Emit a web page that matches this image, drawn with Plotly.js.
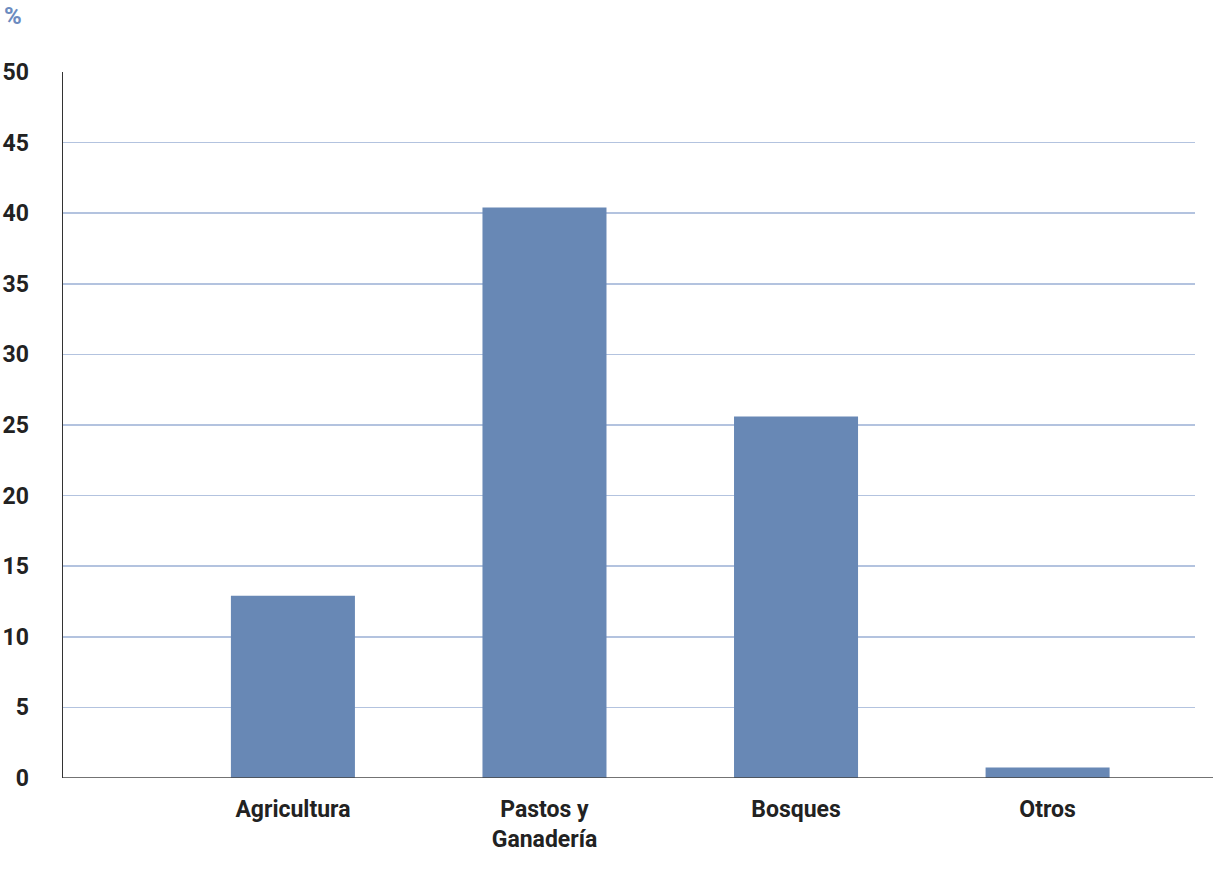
<!DOCTYPE html>
<html>
<head>
<meta charset="utf-8">
<script src="https://cdn.plot.ly/plotly-3.0.1.min.js"></script>
<style>html,body{margin:0;padding:0;background:#fff;}#chart{width:1213px;height:882px;}</style>
</head>
<body>
<div id="chart"></div>
<script>
const categories = ["Agricultura", "Pastos y<br>Ganadería", "Bosques", "Otros"];
const values = [12.9, 40.4, 25.6, 0.74];
const yTicks = [0, 5, 10, 15, 20, 25, 30, 35, 40, 45, 50];

const FONT = 'Roboto, "Liberation Sans", sans-serif';

const trace = {
  type: 'bar',
  x: categories,
  y: values,
  marker: {color: '#6888b5'},
  hoverinfo: 'x+y'
};

const layout = {
  width: 1213,
  height: 882,
  margin: {l: 63, r: 18, t: 72, b: 103.5},
  paper_bgcolor: '#ffffff',
  plot_bgcolor: '#ffffff',
  bargap: 0.507,
  showlegend: false,
  xaxis: {
    type: 'category',
    range: [-0.914, 3.586],
    showgrid: false,
    zeroline: false,
    showline: false,
    ticks: '',
    ticklabelstandoff: 15,
    tickfont: {family: FONT, size: 23, color: '#222222', weight: 'bold'}
  },
  yaxis: {
    range: [0, 50],
    tickvals: yTicks,
    ticktext: yTicks.map(String),
    showgrid: true,
    gridcolor: '#b3c3df',
    gridwidth: 1.5,
    zeroline: false,
    showline: true,
    linecolor: '#333333',
    linewidth: 1.5,
    ticks: '',
    ticklabelstandoff: 28,
    tickfont: {family: FONT, size: 23, color: '#222222', weight: 'bold'}
  },
  shapes: [{
    type: 'line', xref: 'paper', yref: 'y',
    x0: 0, x1: 1.02, y0: 0, y1: 0,
    line: {color: '#444444', width: 1.5},
    layer: 'above'
  }],
  annotations: [{
    text: '%', xref: 'paper', yref: 'paper',
    x: -0.054, y: 1.079, xanchor: 'left', yanchor: 'middle',
    showarrow: false,
    font: {family: FONT, size: 24, color: '#6b8bc0', weight: 'bold'}
  }]
};

Plotly.newPlot('chart', [trace], layout, {displayModeBar: false, staticPlot: true});
</script>
</body>
</html>
